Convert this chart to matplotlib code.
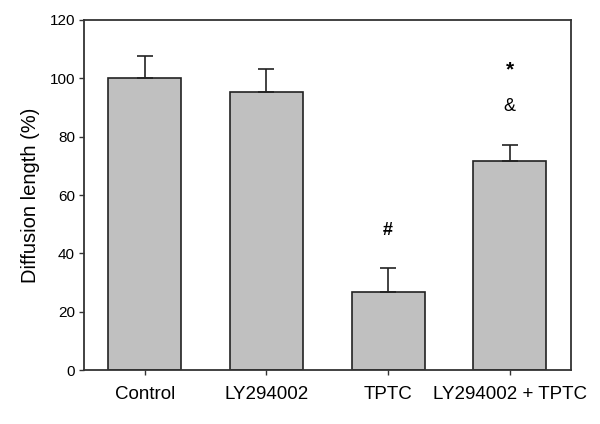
import matplotlib.pyplot as plt

# Data
groups = ["Control", "LY294002", "TPTC", "LY294002 + TPTC"]
means = [100, 95.3, 26.8, 71.8]
sem = [7.6, 8.0, 8.2, 5.2]

plt.rcParams['font.family'] = ['Liberation Sans', 'DejaVu Sans']

fig = plt.figure(figsize=(6, 4.24), dpi=100)
ax = fig.add_axes([0.14, 0.127, 0.811, 0.826])

x = range(len(groups))
ax.bar(x, means, width=0.6, color='#c0c0c0', edgecolor='#222222', linewidth=1.2)
ax.errorbar(x, means, yerr=[[0] * len(sem), sem], fmt='none', ecolor='#222222',
            elinewidth=1.2, capsize=6, capthick=1.2)

# significance markers
ax.text(2, 48, "#", ha='center', va='center', fontsize=13, fontweight='bold')
ax.text(3, 90.3, "&", ha='center', va='center', fontsize=13)
ax.text(3, 103, "*", ha='center', va='center', fontsize=15, fontweight='bold')

ax.set_xlim(-0.5, 3.5)
ax.set_ylim(0, 120)
ax.set_yticks(range(0, 121, 20))
ax.set_xticks(list(x))
ax.set_xticklabels(groups, fontsize=13.5)
ax.tick_params(axis='y', labelsize=11, length=3.5, width=1, color='#333333', pad=3)
ax.tick_params(axis='x', length=3.5, width=1, color='#333333', pad=8)
ax.set_ylabel("Diffusion length (%)", fontsize=14.5, labelpad=7)
for s in ax.spines.values():
    s.set_linewidth(1.3)
    s.set_color('#333333')

fig.savefig("out.png", dpi=100)
